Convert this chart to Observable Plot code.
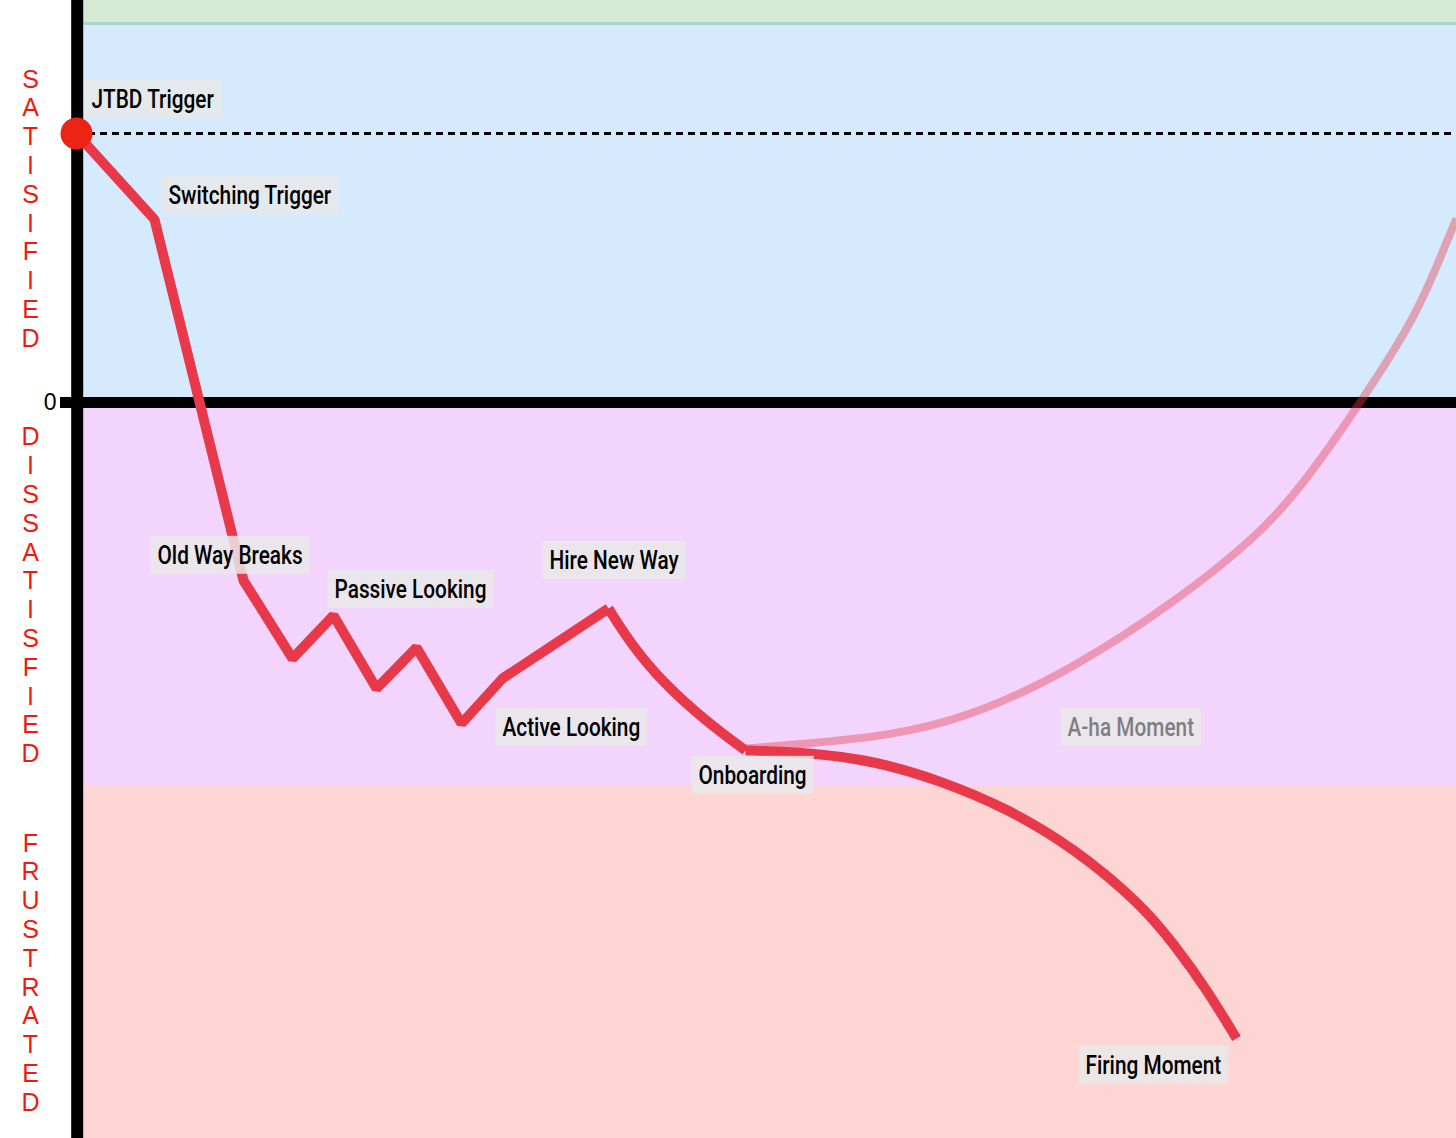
<!DOCTYPE html>
<html><head><meta charset="utf-8">
<script src="https://cdn.jsdelivr.net/npm/d3@7"></script>
<script src="https://cdn.jsdelivr.net/npm/@observablehq/plot@0.6"></script>
<style>html,body{margin:0;padding:0;background:#fff;} #chart svg{display:block}</style>
</head><body><div id="chart"></div>
<script>
// Zones (satisfaction units, 0 = neutral line)
const bandNames = ["Delight", "Satisfied", "Dissatisfied", "Frustrated"];
const bandTop = [402, 379, 0, -384];
const bandBottom = [379, 0, -384, -736];
const bandColors = ["#d4ead3", "#d5eafc", "#f2d4fc", "#fdd6d3"];

// Journey (time on x, satisfaction on y)
const journeyX = [76, 154, 243, 292, 333, 376, 416, 461, 502, 608];
const journeyY = [269, 183, -178, -256, -213, -286, -245, -321, -276, -206];
const hireX = [608, 630, 663, 707, 745];
const hireY = [-206, -241, -281, -320, -348];
const firingX = [745, 807, 873, 940, 1007, 1073, 1140, 1173, 1207, 1236];
const firingY = [-348, -350, -358, -378, -406, -445, -501, -541, -588, -636];
const ahaX = [745, 807, 884, 967, 1072, 1177, 1260, 1302, 1361, 1407, 1428, 1456];
const ahaY = [-346, -341, -334, -316, -267, -198, -131, -83, 1, 73, 116, 184];
const triggerLevel = 269;

const labelNames = ["JTBD Trigger", "Switching Trigger", "Old Way Breaks", "Passive Looking", "Hire New Way", "Active Looking", "Onboarding", "Firing Moment"];
const labelX = [91, 168, 157, 334, 549, 502, 698, 1085];
const labelY = [303, 207, -153, -187, -158, -325, -373, -663];
const faintName = ["A-ha Moment"];
const faintX = [1067];
const faintY = [-325];

const zoneWords = ["SATISIFIED", "DISSATISFIED", "FRUSTRATED"];
const zoneCenterY = [194.5, -192, -569.5];
const zeroLabel = ["0"];

const pts = (xs, ys) => xs.map((x, i) => ({x, y: ys[i]}));
const bands = bandNames.map((n, i) => ({n, y1: bandBottom[i], y2: bandTop[i], c: bandColors[i]}));
const labels = labelNames.map((t, i) => ({t, x: labelX[i], y: labelY[i]}));
const faint = faintName.map((t, i) => ({t, x: faintX[i], y: faintY[i]}));
const zones = zoneWords.map((w, i) => ({t: w.split("").join("\n"), y: zoneCenterY[i]}));

const RED = "#e8394a";
const font = "'Liberation Sans', Arial, sans-serif";
const labelFont = "Roboto, 'Liberation Sans', sans-serif";

const svg = Plot.plot({
  width: 1456, height: 1138,
  marginTop: 0, marginBottom: 0, marginLeft: 0, marginRight: 0,
  x: {domain: [0, 1456], axis: null},
  y: {domain: [-736, 402], axis: null},
  style: {background: "#fff", fontFamily: font, overflow: "visible"},
  marks: [
    Plot.rect(bands, {x1: 77, x2: 1456, y1: "y1", y2: "y2", fill: "c"}),
    Plot.ruleY([bandTop[1]], {x1: 77, x2: 1456, stroke: "#acd5cb", strokeWidth: 3}),
    Plot.ruleY([0], {x1: 60, x2: 1456, stroke: "#000", strokeWidth: 11}),
    Plot.ruleX([76.7], {y1: -736, y2: 402, stroke: "#000", strokeWidth: 12}),
    Plot.ruleY([triggerLevel], {x1: 76, x2: 1456, stroke: "#000", strokeWidth: 3, strokeDasharray: "7,5"}),
    Plot.line(pts(journeyX, journeyY), {x: "x", y: "y", stroke: RED, strokeWidth: 10, strokeLinejoin: "miter", strokeLinecap: "butt"}),
    Plot.line(pts(hireX, hireY), {x: "x", y: "y", stroke: RED, strokeWidth: 10, curve: "basis", strokeLinecap: "butt"}),
    Plot.line(pts(ahaX, ahaY), {x: "x", y: "y", stroke: RED, strokeOpacity: 0.4, strokeWidth: 8, curve: "basis", strokeLinecap: "butt"}),
    Plot.line(pts(firingX, firingY), {x: "x", y: "y", stroke: RED, strokeWidth: 10, curve: "basis", strokeLinecap: "butt"}),
    Plot.text(labels, {x: "x", y: "y", text: "t", textAnchor: "start", lineAnchor: "middle", fontSize: 26, fontWeight: 500, fontFamily: labelFont, fill: "#000", className: "lbl"}),
    Plot.text(faint, {x: "x", y: "y", text: "t", textAnchor: "start", lineAnchor: "middle", fontSize: 26, fontWeight: 500, fontFamily: labelFont, fill: "#000", opacity: 0.45, className: "lbl"}),
    Plot.text(zones, {x: 30, y: "y", text: "t", textAnchor: "middle", lineAnchor: "middle", fontSize: 25, lineHeight: 28.8 / 25, fill: "#ee1a0e"}),
    Plot.text(zeroLabel, {x: 56, y: 0, text: d => d, textAnchor: "end", lineAnchor: "middle", fontSize: 23, fill: "#000"}),
    Plot.dot([{x: journeyX[0], y: journeyY[0]}], {x: "x", y: "y", r: 16, fill: "#eb2413", stroke: "none"})
  ]
});
document.getElementById("chart").append(svg);

// label boxes, condensed text
svg.querySelectorAll("g.lbl text").forEach(t => {
  const len = t.getComputedTextLength();
  const target = len * 0.8;
  t.setAttribute("textLength", target);
  t.setAttribute("lengthAdjust", "spacingAndGlyphs");
  const bb = t.getBBox();
  const r = document.createElementNS("http://www.w3.org/2000/svg", "rect");
  r.setAttribute("x", bb.x - 7);
  r.setAttribute("width", target + 14);
  r.setAttribute("y", bb.y - 4);
  r.setAttribute("height", bb.height + 8);
  r.setAttribute("fill", "#e9e9e9");
  r.setAttribute("fill-opacity", 0.85);
  if (t.getAttribute("transform")) r.setAttribute("transform", t.getAttribute("transform"));
  t.parentNode.insertBefore(r, t);
});
</script>
</body></html>
